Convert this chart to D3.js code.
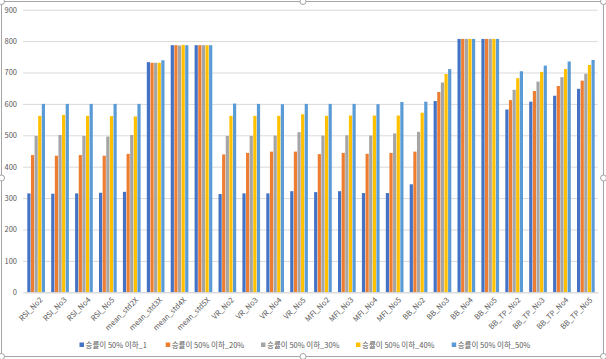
<!DOCTYPE html>
<html><head><meta charset="utf-8">
<script src="https://cdn.jsdelivr.net/npm/d3@7"></script>
<style>body{margin:0;background:#fff}svg{display:block}</style>
</head><body><svg id="c" width="606" height="359"></svg>
<script>
const categories = ["RSI_No2","RSI_No3","RSI_No4","RSI_No5","mean_std2X","mean_std3X","mean_std4X","mean_std5X","VR_No2","VR_No3","VR_No4","VR_No5","MFI_No2","MFI_No3","MFI_No4","MFI_No5","BB_No2","BB_No3","BB_No4","BB_No5","BB_TP_No2","BB_TP_No3","BB_TP_No4","BB_TP_No5"];
const seriesNames = ["승률이 50% 이하_1","승률이 50% 이하_20%","승률이 50% 이하_30%","승률이 50% 이하_40%","승률이 50% 이하_50%"];
const s1  = [315,314,315,317,320,733,787,787,313,315,315,322,319,322,316,316,344,609,807,807,582,607,626,648];
const s20 = [437,435,437,435,441,731,787,787,439,444,448,448,440,444,441,444,448,638,807,807,612,641,657,674];
const s30 = [498,501,498,496,501,731,786,787,498,498,499,510,499,500,499,506,511,668,807,807,645,671,685,696];
const s40 = [562,565,562,561,560,731,788,787,562,562,562,567,562,563,563,563,572,695,807,807,682,702,711,724];
const s50 = [600,600,600,600,600,739,787,787,601,600,599,600,600,600,599,606,607,711,807,807,704,722,735,740];
const yTicks = [0,100,200,300,400,500,600,700,800,900];
const colors = ["#4472C4","#ED7D31","#A5A5A5","#FFC000","#5B9BD5"];
const series = [s1,s20,s30,s40,s50];

const svg = d3.select("#c");
const font = "'Noto Sans CJK KR','Noto Sans',sans-serif";
const txt = "#595959";

// chart frame
svg.append("rect").attr("x",1.5).attr("y",1.5).attr("width",602).attr("height",355)
  .attr("fill","none").attr("stroke","#a6a6a6").attr("stroke-width",1);
[[1.5,1.5],[303,1.5],[603.5,1.5],[1.5,178],[603.5,178],[1.5,356.5],[303,356.5],[603.5,356.5]].forEach(p=>{
  svg.append("circle").attr("cx",p[0]).attr("cy",p[1]).attr("r",3)
    .attr("fill","#fff").attr("stroke","#8c8c8c").attr("stroke-width",0.8);
});

const x = d3.scaleBand().domain(categories).range([24.2,597.8]).paddingInner(0.26).paddingOuter(0.13);
const xs = d3.scaleBand().domain(d3.range(5)).range([0,x.bandwidth()]).paddingInner(0.12);
const y = d3.scaleLinear().domain([0,900]).range([292.3,9.7]);

// gridlines
const yAxis = d3.axisLeft(y).tickValues(yTicks).tickSize(-(597.8-23)).tickPadding(6);
const ga = svg.append("g").attr("transform","translate(23,0)").call(yAxis);
ga.select(".domain").remove();
ga.selectAll("line").attr("stroke","#d9d9d9").attr("stroke-width",1);
ga.selectAll("text").attr("fill",txt).attr("font-size","7.5px").attr("font-family",font).attr("x",-6);

// bars
categories.forEach((c,i)=>{
  series.forEach((s,k)=>{
    svg.append("rect")
      .attr("x",x(c)+xs(k)).attr("width",xs.bandwidth())
      .attr("y",y(s[i])).attr("height",y(0)-y(s[i]))
      .attr("fill",colors[k]);
  });
});

// x axis
const xAxis = d3.axisBottom(x).tickSize(0).tickPadding(5);
const gx = svg.append("g").attr("transform",`translate(0,${y(0)})`).call(xAxis);
gx.select(".domain").attr("stroke","#d9d9d9");
gx.selectAll("text").attr("fill",txt).attr("font-size","7.5px").attr("font-family",font)
  .attr("text-anchor","end").attr("dy","0.3em")
  .attr("transform","translate(2,3) rotate(-45)");

// legend
const lx = [79.5,165.7,261,356,451.7];
seriesNames.forEach((n,k)=>{
  svg.append("rect").attr("x",lx[k]).attr("y",342.5).attr("width",4.5).attr("height",4.5).attr("fill",colors[k]);
  svg.append("text").attr("x",lx[k]+6).attr("y",348).attr("fill",txt)
    .attr("font-size","7.5px").attr("font-family",font).text(n);
});
</script></body></html>
